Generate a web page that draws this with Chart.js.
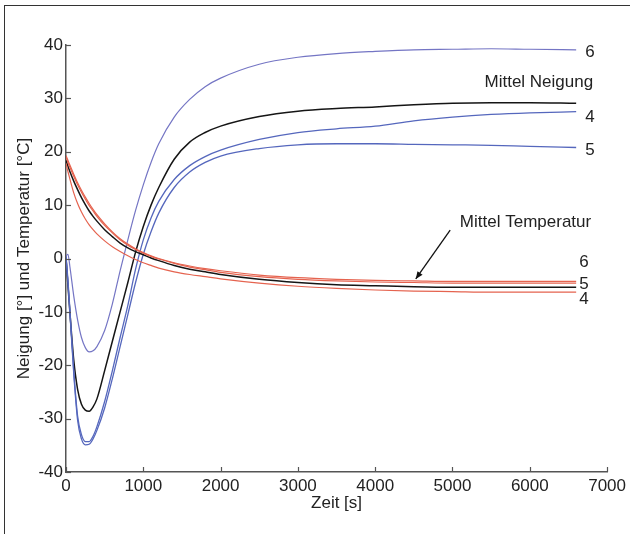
<!DOCTYPE html>
<html>
<head>
<meta charset="utf-8">
<script src="https://cdn.jsdelivr.net/npm/chart.js@4"></script>
<style>
  html, body { margin: 0; padding: 0; background: #fff; }
  #wrap { position: relative; width: 630px; height: 534px; }
  #frame { position: absolute; left: 4px; top: 5px; right: -10px; bottom: -10px;
           border-left: 1.5px solid #333; border-top: 1.5px solid #333; pointer-events: none; }
  canvas { position: absolute; left: 0; top: 0; }
</style>
</head>
<body>
<div id="wrap">
  <canvas id="c" width="630" height="534"></canvas>
  <div id="frame"></div>
</div>
<script>
// ---- data (time in s) ----
const times = [0,25,50,100,150,200,250,300,350,400,500,600,700,800,900,1000,1100,1200,1400,1600,1800,2000,2500,3000,3500,4000,4500,5000,5500,6000,6600];

// Neigung [°]
const neigung6 = [0.5,0.8,-1.5,-7,-11.5,-14.8,-16.7,-17.5,-17.3,-16.5,-13.5,-8.5,-2.3,3.5,9,13.8,18,21.5,26.5,29.8,32.2,33.8,36.4,37.7,38.4,38.8,39.1,39.2,39.3,39.2,39.1];
const neigung4 = [0.5,-4,-9.5,-21,-29.5,-33,-34.3,-34.3,-33.3,-31.5,-26.8,-21,-14.8,-8.8,-2,3.5,7.6,10.7,14.8,17.4,19.1,20.3,22.3,23.6,24.3,24.8,25.8,26.5,27,27.3,27.5];
const neigung5 = [0.3,-4.5,-10,-21.5,-30.3,-33.8,-34.9,-34.8,-33.8,-32.2,-28,-22.5,-16.5,-10.5,-4.5,0.8,5,8.5,13.3,16.2,18,19.2,20.6,21.3,21.5,21.5,21.4,21.3,21.2,21,20.8];
const neigungMittel = [0,-5,-10,-19,-24.5,-27.3,-28.4,-28.6,-27.8,-26.3,-21,-15.5,-10,-4.5,1.2,6,10,13.3,18.6,21.8,23.6,24.8,26.6,27.6,28.1,28.4,28.8,29.1,29.2,29.2,29.1];

// Temperatur [°C]
const temp6 = [19.3,18.4,17.5,15.8,14.2,12.8,11.5,10.3,9.2,8.2,6.5,5.0,3.7,2.7,1.8,1.1,0.5,0.0,-0.8,-1.4,-1.9,-2.3,-3.1,-3.6,-3.9,-4.1,-4.2,-4.3,-4.3,-4.3,-4.3];
const temp5 = [19.0,18.0,17.1,15.4,13.8,12.4,11.1,9.9,8.9,7.9,6.2,4.8,3.5,2.5,1.7,1.0,0.4,-0.1,-0.9,-1.6,-2.1,-2.6,-3.4,-3.9,-4.2,-4.4,-4.5,-4.6,-4.6,-4.6,-4.6];
const temp4 = [17.8,16.3,14.9,12.3,10.3,8.7,7.4,6.3,5.4,4.6,3.3,2.2,1.3,0.5,-0.2,-0.8,-1.3,-1.8,-2.5,-3.0,-3.4,-3.8,-4.6,-5.2,-5.6,-5.9,-6.1,-6.2,-6.3,-6.3,-6.3];
const tempMittel = [18.4,17.3,16.3,14.5,12.9,11.4,10.1,8.9,7.9,7.0,5.4,4.1,2.9,2.0,1.3,0.7,0.1,-0.4,-1.3,-2.0,-2.5,-3.0,-3.9,-4.5,-4.9,-5.1,-5.3,-5.4,-5.4,-5.4,-5.4];

const xTickValues = [0,1000,2000,3000,4000,5000,6000,7000];
const yTickValues = [-40,-30,-20,-10,0,10,20,30,40];

const xTitle = 'Zeit [s]';
const yTitle = 'Neigung [°] und Temperatur [°C]';

// ---- build chart ----
const toPts = arr => arr.map((v, i) => ({x: times[i], y: v}));
const FONT = "'Liberation Sans', Arial, sans-serif";
const FS = 17;
const TXT = '#222';
const BLUE = '#5567bd', BLUE_L = '#7475c4', RED = '#e5634f', BLACK = '#151515';

function ds(data, color, width) {
  return { data: toPts(data), borderColor: color, borderWidth: width, showLine: true,
           pointRadius: 0, fill: false, cubicInterpolationMode: 'monotone' };
}

const annot = {
  id: 'annot',
  afterDraw(chart) {
    const ctx = chart.ctx, xs = chart.scales.x, ys = chart.scales.y;
    const area = chart.chartArea;
    ctx.save();
    // inward tick marks
    ctx.strokeStyle = '#555'; ctx.lineWidth = 1.2;
    xTickValues.forEach(v => {
      const px = Math.round(xs.getPixelForValue(v)) + 0.5;
      ctx.beginPath(); ctx.moveTo(px, area.bottom); ctx.lineTo(px, area.bottom - 5); ctx.stroke();
    });
    yTickValues.forEach(v => {
      const py = Math.round(ys.getPixelForValue(v)) + 0.5;
      ctx.beginPath(); ctx.moveTo(area.left, py); ctx.lineTo(area.left + 5, py); ctx.stroke();
    });
    // text labels
    ctx.fillStyle = TXT;
    ctx.font = FS + "px " + FONT;
    ctx.textBaseline = 'middle';
    const endX = xs.getPixelForValue(times[times.length - 1]);
    ctx.textAlign = 'left';
    [['6', 38.7], ['4', 26.5], ['5', 20.3]].forEach(([t, y]) => ctx.fillText(t, endX + 9, ys.getPixelForValue(y)));
    [['6', -0.65], ['5', -4.78], ['4', -7.68]].forEach(([t, y]) => ctx.fillText(t, endX + 3, ys.getPixelForValue(y)));
    ctx.textAlign = 'right';
    ctx.fillText('Mittel Neigung', endX + 17, ys.getPixelForValue(33.0));
    ctx.fillText('Mittel Temperatur', endX + 15, ys.getPixelForValue(6.75));
    // arrow
    const x1 = xs.getPixelForValue(4970), y1 = ys.getPixelForValue(5.3);
    const x2 = xs.getPixelForValue(4525), y2 = ys.getPixelForValue(-3.84);
    ctx.strokeStyle = '#111'; ctx.lineWidth = 1.3;
    ctx.beginPath(); ctx.moveTo(x1, y1); ctx.lineTo(x2, y2); ctx.stroke();
    const ang = Math.atan2(y2 - y1, x2 - x1), L = 8, W = 0.4;
    ctx.fillStyle = '#111';
    ctx.beginPath();
    ctx.moveTo(x2, y2);
    ctx.lineTo(x2 - L * Math.cos(ang - W), y2 - L * Math.sin(ang - W));
    ctx.lineTo(x2 - L * Math.cos(ang + W), y2 - L * Math.sin(ang + W));
    ctx.closePath(); ctx.fill();
    ctx.restore();
  }
};

new Chart(document.getElementById('c'), {
  type: 'scatter',
  data: {
    datasets: [
      ds(temp4, RED, 1.2),
      ds(temp5, RED, 1.2),
      ds(temp6, RED, 1.2),
      ds(tempMittel, BLACK, 1.5),
      ds(neigung6, BLUE_L, 1.2),
      ds(neigung4, BLUE, 1.3),
      ds(neigung5, BLUE, 1.3),
      ds(neigungMittel, BLACK, 1.5)
    ]
  },
  options: {
    responsive: false,
    animation: false,
    layout: { padding: { left: 0, right: 21, top: 45, bottom: 0 } },
    plugins: { legend: { display: false }, tooltip: { enabled: false } },
    scales: {
      x: {
        type: 'linear', min: 0, max: 7000,
        afterBuildTicks: s => { s.ticks = xTickValues.map(v => ({value: v})); },
        afterFit: s => { s.height = 62; },
        grid: { display: true, drawOnChartArea: false, drawTicks: false },
        border: { display: true, color: '#555', width: 1.5 },
        ticks: { color: TXT, font: { size: FS, family: FONT }, padding: 4, maxRotation: 0, autoSkip: false,
                 callback: v => String(v) },
        title: { display: true, text: xTitle, color: TXT, font: { size: FS, family: FONT }, padding: { top: 0, bottom: 20 } }
      },
      y: {
        type: 'linear', min: -40, max: 40,
        afterBuildTicks: s => { s.ticks = yTickValues.map(v => ({value: v})); },
        afterFit: s => { s.width = 66; },
        grid: { display: true, drawOnChartArea: false, drawTicks: false },
        border: { display: true, color: '#555', width: 1.5 },
        ticks: { color: TXT, font: { size: FS, family: FONT }, padding: 3, autoSkip: false,
                 callback: v => String(v) },
        title: { display: true, text: yTitle, color: TXT, font: { size: FS, family: FONT }, padding: { top: 14, bottom: 0 } }
      }
    }
  },
  plugins: [annot]
});
</script>
</body>
</html>
